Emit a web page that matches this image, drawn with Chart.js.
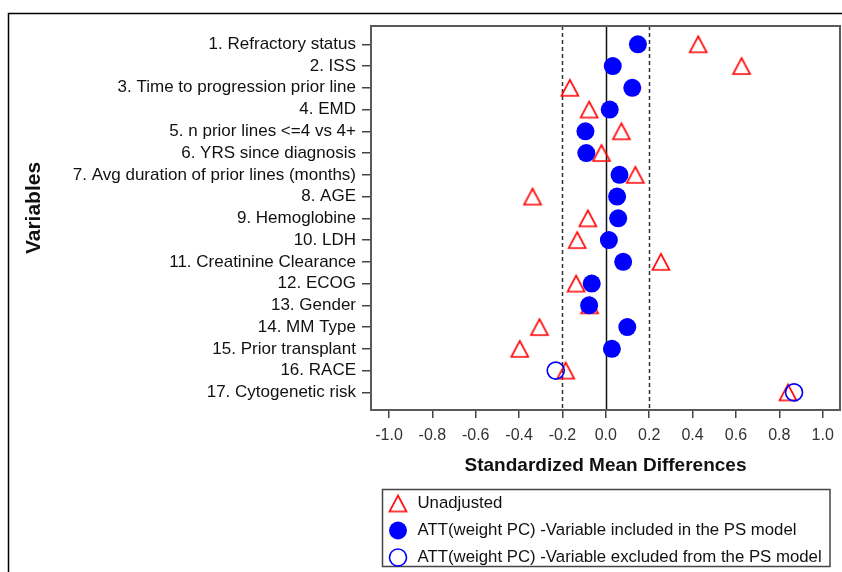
<!DOCTYPE html>
<html>
<head>
<meta charset="utf-8">
<script src="https://cdn.jsdelivr.net/npm/chart.js@4.4.0/dist/chart.umd.min.js"></script>
<style>
    html, body { margin: 0; padding: 0; background: #fff; }
    #contenedor { width: 842px; height: 572px; }
</style>
</head>
<body>
<div id="contenedor"><canvas id="graficaSMD" width="842" height="572"></canvas></div>
<script>
// Variables del modelo (eje Y, de arriba a abajo)
const variables = [
    '1. Refractory status',
    '2. ISS',
    '3. Time to progression prior line',
    '4. EMD',
    '5. n prior lines <=4 vs 4+',
    '6. YRS since diagnosis',
    '7. Avg duration of prior lines (months)',
    '8. AGE',
    '9. Hemoglobine',
    '10. LDH',
    '11. Creatinine Clearance',
    '12. ECOG',
    '13. Gender',
    '14. MM Type',
    '15. Prior transplant',
    '16. RACE',
    '17. Cytogenetic risk'
];

// Diferencias de medias estandarizadas
const unadjusted = [0.426, 0.626, -0.166, -0.077, 0.072, -0.020, 0.136, -0.338, -0.083, -0.132, 0.254, -0.137, -0.075, -0.306, -0.397, -0.185, 0.840];
const attIncluded = [0.148, 0.032, 0.122, 0.018, -0.094, -0.090, 0.063, 0.052, 0.057, 0.014, 0.080, -0.065, -0.077, 0.099, 0.028, null, null];
const attExcluded = [null, null, null, null, null, null, null, null, null, null, null, null, null, null, null, -0.231, 0.868];

// Etiquetas del eje X y líneas de referencia
const xTicks = [-1.0, -0.8, -0.6, -0.4, -0.2, 0.0, 0.2, 0.4, 0.6, 0.8, 1.0];
const refLines = [-0.2, 0.0, 0.2];

const seriesLabels = [
    'Unadjusted',
    'ATT(weight PC) -Variable included in the PS model',
    'ATT(weight PC) -Variable excluded from the PS model'
];
const yTitle = 'Variables';
const xTitle = 'Standardized Mean Differences';

const fuente = "'Liberation Sans', Arial, sans-serif";
Chart.defaults.font.family = fuente;

// Convierte una lista de valores en puntos (x = SMD, y = número de variable)
function aPuntos(valores) {
    return valores
        .map((v, i) => (v === null ? null : { x: v, y: i + 1 }))
        .filter(p => p !== null);
}

// Triángulo hueco centrado a media altura
function crearTriangulo() {
    const c = document.createElement('canvas');
    c.width = 22;
    c.height = 22;
    const g = c.getContext('2d');
    g.strokeStyle = '#ff0000';
    g.lineWidth = 1.6;
    g.beginPath();
    g.moveTo(11, 3);
    g.lineTo(19.5, 19);
    g.lineTo(2.5, 19);
    g.closePath();
    g.stroke();
    return c;
}
const triangulo = crearTriangulo();

// Marco exterior, título vertical, marco del área de trazado y líneas de referencia
const marcosPlugin = {
    id: 'marcos',
    beforeDraw(chart) {
        const ctx = chart.ctx;
        ctx.save();
        ctx.strokeStyle = '#000';
        ctx.lineWidth = 1.5;
        ctx.beginPath();
        ctx.moveTo(8.5, chart.height);
        ctx.lineTo(8.5, 13.5);
        ctx.lineTo(chart.width, 13.5);
        ctx.stroke();

        // título del eje Y
        ctx.translate(34, 208);
        ctx.rotate(-Math.PI / 2);
        ctx.font = 'bold 21px ' + fuente;
        ctx.fillStyle = '#111';
        ctx.textAlign = 'center';
        ctx.textBaseline = 'middle';
        ctx.fillText(yTitle, 0, 0);
        ctx.restore();
    },
    beforeDatasetsDraw(chart) {
        const { ctx, chartArea, scales } = chart;
        ctx.save();
        refLines.forEach(v => {
            const x = Math.round(scales.x.getPixelForValue(v)) + 0.5;
            ctx.beginPath();
            ctx.strokeStyle = v === 0 ? '#111' : '#333';
            ctx.lineWidth = 1.5;
            ctx.setLineDash(v === 0 ? [] : [4, 3]);
            ctx.moveTo(x, chartArea.top);
            ctx.lineTo(x, chartArea.bottom);
            ctx.stroke();
        });
        ctx.setLineDash([]);
        ctx.strokeStyle = '#5a5a5a';
        ctx.lineWidth = 2;
        ctx.strokeRect(chartArea.left, chartArea.top, chartArea.right - chartArea.left, chartArea.bottom - chartArea.top);
        ctx.restore();
    }
};

// Leyenda en recuadro, una serie por línea
const leyendaPlugin = {
    id: 'leyendaCaja',
    afterDraw(chart) {
        const ctx = chart.ctx;
        const caja = { x: 382.5, y: 489.5, w: 447.5, h: 77 };
        ctx.save();
        ctx.strokeStyle = '#444';
        ctx.lineWidth = 1.5;
        ctx.strokeRect(caja.x, caja.y, caja.w, caja.h);

        ctx.font = '16.8px ' + fuente;
        ctx.fillStyle = '#111';
        ctx.textBaseline = 'middle';
        ctx.textAlign = 'left';
        chart.data.datasets.forEach((ds, i) => {
            const y = caja.y + 14 + i * 27;
            ctx.save();
            ctx.fillStyle = ds.backgroundColor;
            ctx.strokeStyle = ds.borderColor;
            ctx.lineWidth = ds.borderWidth;
            Chart.helpers.drawPoint(ctx, {
                pointStyle: ds.pointStyle,
                radius: ds.pointRadius,
                borderWidth: ds.borderWidth,
                rotation: 0
            }, caja.x + 15.5, y);
            ctx.restore();
            ctx.fillText(ds.label, caja.x + 35, y);
        });
        ctx.restore();
    }
};

const ctx = document.getElementById('graficaSMD').getContext('2d');
const grafica = new Chart(ctx, {
    type: 'scatter',
    data: {
        datasets: [
            {
                label: seriesLabels[0],
                data: aPuntos(unadjusted),
                pointStyle: triangulo,
                pointRadius: 10,
                backgroundColor: 'rgba(0,0,0,0)',
                borderColor: '#ff0000',
                borderWidth: 1.6,
                order: 3
            },
            {
                label: seriesLabels[1],
                data: aPuntos(attIncluded),
                pointStyle: 'circle',
                pointRadius: 9,
                backgroundColor: '#0000ff',
                borderColor: '#0000ff',
                borderWidth: 0,
                order: 1
            },
            {
                label: seriesLabels[2],
                data: aPuntos(attExcluded),
                pointStyle: 'circle',
                pointRadius: 8.5,
                backgroundColor: 'rgba(0,0,0,0)',
                borderColor: '#0000ff',
                borderWidth: 1.6,
                order: 2
            }
        ]
    },
    options: {
        responsive: false,
        animation: false,
        layout: { autoPadding: false, padding: { left: 0, top: 26, right: 2, bottom: 0 } },
        plugins: {
            legend: { display: false },
            tooltip: { enabled: false }
        },
        scales: {
            x: {
                type: 'linear',
                min: -1.083,
                max: 1.08,
                afterBuildTicks: scale => {
                    scale.ticks = xTicks.map(v => ({ value: v }));
                },
                afterFit: scale => {
                    scale.height = 162;
                    scale.paddingLeft = 0;
                    scale.paddingRight = 0;
                },
                ticks: {
                    font: { size: 16 },
                    color: '#333',
                    padding: 8,
                    callback: v => v.toFixed(1)
                },
                grid: { drawOnChartArea: false, tickLength: 8, color: '#444', lineWidth: 1.5 },
                border: { color: '#5a5a5a', width: 2 },
                title: {
                    display: true,
                    text: xTitle,
                    font: { size: 19, weight: 'bold' },
                    color: '#111',
                    padding: { top: 0, bottom: 95 }
                }
            },
            y: {
                type: 'linear',
                reverse: true,
                min: 0.16,
                max: 17.81,
                afterBuildTicks: scale => {
                    scale.ticks = variables.map((_, i) => ({ value: i + 1 }));
                },
                afterFit: scale => {
                    scale.width = 371;
                    scale.paddingTop = 0;
                    scale.paddingBottom = 0;
                },
                ticks: {
                    font: { size: 17 },
                    color: '#111',
                    padding: 6,
                    autoSkip: false,
                    callback: v => variables[v - 1]
                },
                grid: { drawOnChartArea: false, tickLength: 9, color: '#444', lineWidth: 1.5 },
                border: { color: '#5a5a5a', width: 2 },
                title: { display: false }
            }
        }
    },
    plugins: [marcosPlugin, leyendaPlugin]
});
</script>
</body>
</html>
